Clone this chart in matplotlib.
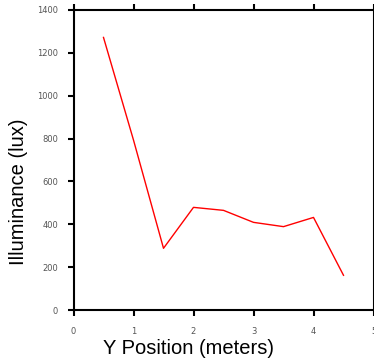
import numpy as np
import matplotlib.pyplot as plt

y_position = [0.5, 1.0, 1.5, 2.0, 2.5, 3.0, 3.5, 4.0, 4.5]
illuminance = [1272, 793, 288, 479, 465, 409, 389, 432, 162]

fig = plt.figure(figsize=(3.74, 3.59), dpi=100)
ax = fig.add_axes([73.5/374, 1 - 310/359, 300/374, 300/359])

ax.plot(y_position, illuminance, color='red', lw=1)

ax.set_xlim(0, 5)
ax.set_ylim(0, 1400)
ax.set_xticks(np.arange(0, 6, 1))
ax.set_yticks(np.arange(0, 1600, 200))

for s in ax.spines.values():
    s.set_linewidth(1.5)
ax.tick_params(direction='out', length=4, width=1.5, top=True, right=True,
               labelsize=6, labelcolor='#555555')
ax.tick_params(axis='x', pad=8)
ax.tick_params(axis='y', pad=7)

ax.set_xlabel("Y Position (meters)", fontsize=14.5, family='Liberation Sans', labelpad=2)
ax.set_ylabel("Illuminance (lux)", fontsize=14.5, family='Liberation Sans', labelpad=10)
ax.xaxis.set_label_coords(0.382, -0.095)
ax.yaxis.set_label_coords(-0.15, 0.393)

fig.savefig('out.png', dpi=100)
